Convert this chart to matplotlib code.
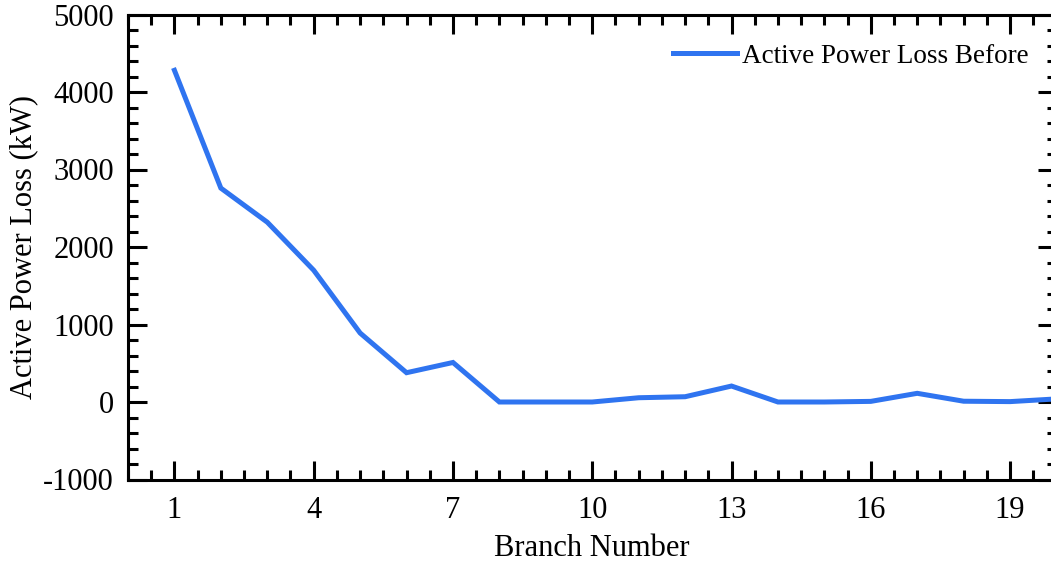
import matplotlib
matplotlib.use("Agg")
import matplotlib.pyplot as plt
from matplotlib.ticker import MultipleLocator, FixedLocator

# Active power loss per branch (kW)
branches = list(range(1, 21))
loss_before = [4280, 2760, 2320, 1700, 890, 378, 510, 0, 0, 0,
               55, 68, 206, 0, 0, 8, 112, 10, 5, 40]

x_ticks = [1, 4, 7, 10, 13, 16, 19]
y_ticks = [-1000, 0, 1000, 2000, 3000, 4000, 5000]

plt.rcParams["font.family"] = ["Liberation Serif", "DejaVu Serif"]
plt.rcParams["axes.unicode_minus"] = False

fig = plt.figure(figsize=(10.51, 5.63), dpi=100)
ax = fig.add_axes([128 / 1051, 1 - 479.5 / 563, (1056.5 - 128) / 1051, (479.5 - 14.5) / 563])

ax.plot(branches, loss_before, color="#2f74f0", linewidth=3.6,
        solid_joinstyle="miter", label="Active Power Loss Before")

ax.set_xlim(0, 20)
ax.set_ylim(-1000, 5000)
ax.xaxis.set_major_locator(FixedLocator(x_ticks))
ax.xaxis.set_minor_locator(MultipleLocator(0.5))
ax.yaxis.set_major_locator(FixedLocator(y_ticks))
ax.yaxis.set_minor_locator(MultipleLocator(200))

ax.tick_params(which="both", direction="in", top=True, right=True,
               width=2.2, labelsize=22, colors="black")
ax.tick_params(which="major", length=14)
ax.tick_params(axis="x", which="major", pad=12)
ax.tick_params(axis="y", which="major", pad=10)
ax.tick_params(which="minor", length=7.5)
for s in ax.spines.values():
    s.set_linewidth(2.2)

ax.set_xlabel("Branch Number", fontsize=22, labelpad=6)
ax.set_ylabel("Active Power Loss (kW)", fontsize=22, labelpad=4)

leg = ax.legend(loc="upper right", bbox_to_anchor=(0.988, 0.972), frameon=False,
                fontsize=19.5, handlelength=2.35, handletextpad=0.22,
                borderaxespad=0.2)

fig.savefig("out.png", dpi=100)
